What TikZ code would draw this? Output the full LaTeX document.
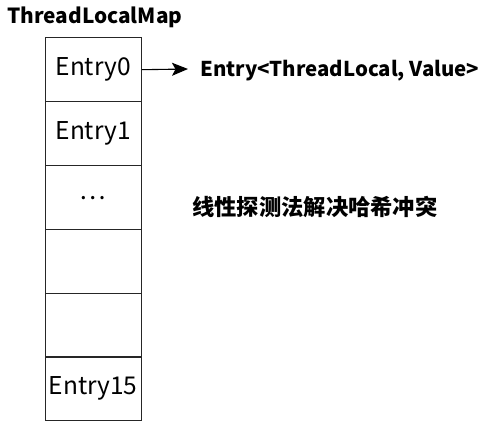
\documentclass[tikz,border=0pt]{standalone}
\usepackage{fontspec}
\setmainfont{Noto Sans CJK SC}
\usetikzlibrary{arrows.meta}
\begin{document}
\begin{tikzpicture}[x=1pt,y=-1pt,
  cell/.style={draw=black!85,line width=1.4pt,minimum width=96pt,minimum height=64pt,inner sep=0pt,font=\fontsize{24.5}{28}\selectfont,anchor=north west},
  lbl/.style={font=\bfseries\fontsize{20.4}{26}\selectfont,inner sep=0pt,anchor=west}]
\useasboundingbox (0,0) rectangle (484,428);
\node[font=\bfseries\fontsize{20.8}{24}\selectfont,inner sep=0pt,anchor=west] (title) at (7,17) {ThreadLocalMap};
\node[cell] (e0) at (44.5,37) {Entry0};
\node[cell] (e1) at (44.5,101) {Entry1};
\node[cell] (e2) at (44.5,165) {};
\node[cell] (e3) at (44.5,229) {};
\node[cell] (e4) at (44.5,293) {};
\node[cell] (e5) at (44.5,356) {Entry15};
\node[font=\fontsize{25}{28}\selectfont,inner sep=0pt] (dots) at (92.5,198.5) {⋯};
\node[lbl] (entry) at (200,71) {Entry<ThreadLocal, Value>};
\node[lbl,font=\bfseries\fontsize{22.3}{26}\selectfont] (cn) at (192,207) {线性探测法解决哈希冲突};
\coordinate (tip) at (188,69);
\draw[line width=1.1pt,-{Stealth[length=16pt,width=13pt,inset=3.5pt]}] (e0.east) -- (tip);
\end{tikzpicture}
\end{document}
